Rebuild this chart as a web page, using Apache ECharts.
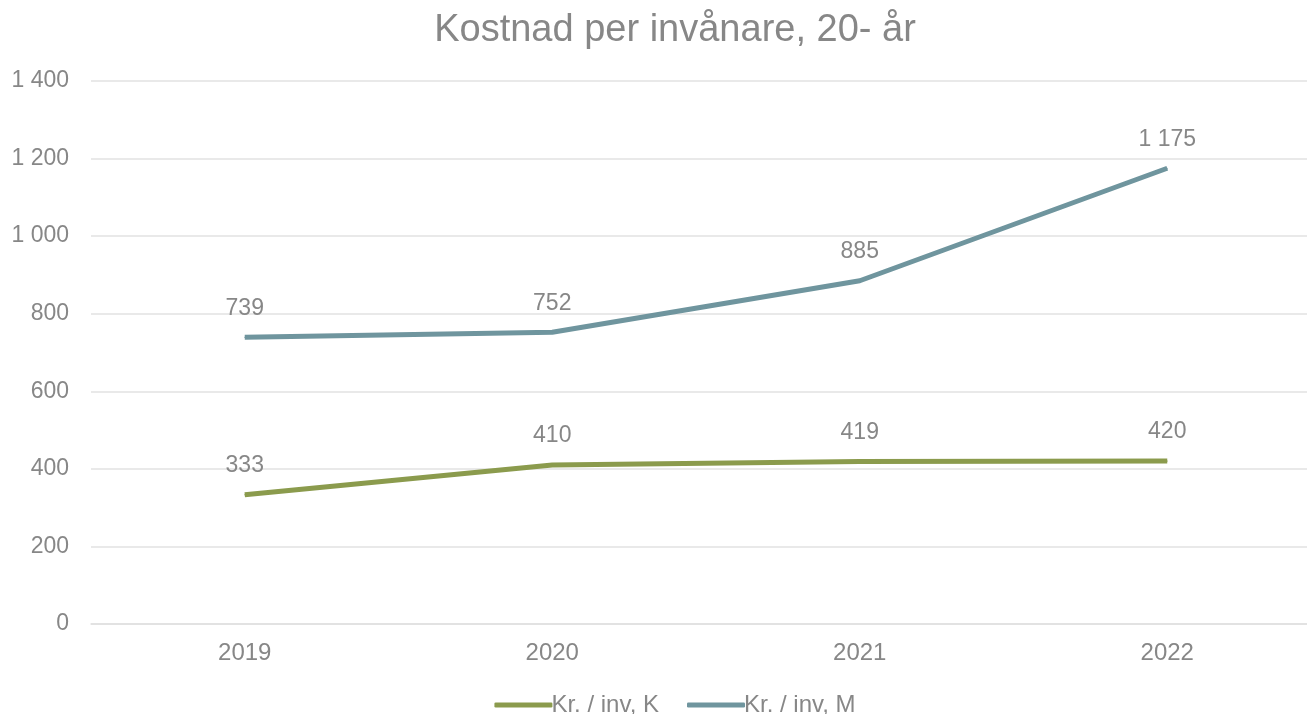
<!DOCTYPE html>
<html>
<head>
<meta charset="utf-8">
<style>
  html, body { margin: 0; padding: 0; background: #fff; overflow: hidden; }
  /* the original chart area runs a bit past the right edge of the picture */
  #chart { width: 1350px; height: 714px; }
</style>
<script src="https://cdn.jsdelivr.net/npm/echarts@6/dist/echarts.min.js"></script>
</head>
<body>
<div id="chart"></div>
<script>
// data
const years = ['2019', '2020', '2021', '2022'];
const krInvK = [333, 410, 419, 420];
const krInvM = [739, 752, 885, 1175];
const seriesNames = ['Kr. / inv, K', 'Kr. / inv, M'];
const seriesColors = ['#8b9b4d', '#6f959e'];

const textGrey = '#878787';
const fontFamily = 'Arial, "Liberation Sans", sans-serif';

// 1200 -> "1 200"
const spaced = (v) => String(v).replace(/\B(?=(\d{3})+(?!\d))/g, ' ');

const makeLine = (name, data, color) => ({
  name: name,
  type: 'line',
  data: data,
  // tiny symbol so the labels still render
  symbol: 'circle',
  symbolSize: 1,
  showSymbol: true,
  lineStyle: { width: 5, color: color },
  itemStyle: { color: color },
  label: {
    show: true,
    position: 'top',
    distance: 17,
    color: textGrey,
    fontSize: 23,
    fontFamily: fontFamily,
    formatter: (p) => spaced(p.value)
  }
});

const chart = echarts.init(document.getElementById('chart'));
chart.setOption({
  animation: false,
  title: {
    text: 'Kostnad per invånare, 20- år',
    left: 'center',
    top: 7,
    textStyle: { color: textGrey, fontSize: 38, fontWeight: 'normal', fontFamily: fontFamily }
  },
  legend: {
    bottom: -8,
    left: 'center',
    itemWidth: 58,
    itemHeight: 5,
    itemGap: 28,
    icon: 'roundRect',
    textStyle: { color: textGrey, fontSize: 24, fontFamily: fontFamily, padding: [0, 0, 0, -6] },
    data: seriesNames
  },
  grid: { left: 91, right: 29, top: 81, bottom: 90 },
  xAxis: {
    type: 'category',
    data: years,
    boundaryGap: true,
    axisLine: { show: true, lineStyle: { color: '#e0e0e0', width: 1.5 } },
    axisTick: { show: false },
    axisLabel: { color: textGrey, fontSize: 24, fontFamily: fontFamily, margin: 17 }
  },
  yAxis: {
    type: 'value',
    min: 0,
    max: 1400,
    interval: 200,
    axisLine: { show: false },
    axisTick: { show: false },
    splitLine: { lineStyle: { color: '#e2e2e2', width: 1.5 } },
    axisLabel: {
      color: textGrey,
      fontSize: 23,
      fontFamily: fontFamily,
      margin: 22,
      formatter: spaced
    }
  },
  series: [
    makeLine(seriesNames[0], krInvK, seriesColors[0]),
    makeLine(seriesNames[1], krInvM, seriesColors[1])
  ]
});
</script>
</body>
</html>
